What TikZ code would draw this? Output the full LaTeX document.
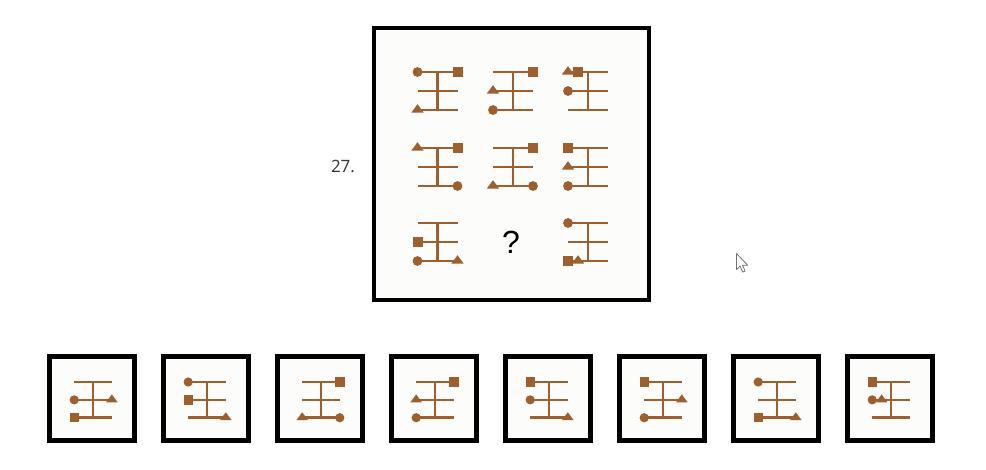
\documentclass[tikz,border=0pt]{standalone}
\usepackage{fontspec}
\newfontfamily\numfont{Open Sans}
\newfontfamily\qfont{Liberation Sans}
\definecolor{br}{HTML}{9C5F2D}
\definecolor{paper}{HTML}{FCFCFA}
\definecolor{numgray}{HTML}{333333}
\definecolor{cursorgray}{HTML}{707070}
\newcommand\GCir[2]{\fill[br] (#1,#2) circle (4.9);}
\newcommand\GSq[2]{\fill[br] (#1-5,#2-5) rectangle (#1+5,#2+5);}
\newcommand\GTri[2]{\fill[br] (#1-6.2,#2+2.6) -- (#1,#2-5.8) -- (#1+6.2,#2+2.6) -- cycle;}
\newcommand\GFig[3]{%
  \begin{scope}[shift={(#1)},scale=#2]
    \draw[brline] (-20,0)--(20,0) (-20,19)--(20,19) (-20,38)--(20,38) (0,0)--(0,38);
    #3
  \end{scope}}
\begin{document}
\begin{tikzpicture}[x=1pt,y=-1pt,
  brline/.style={draw=br,line width=2.5pt},
  mainbox/.style={draw=black,line width=4pt,fill=paper,minimum width=275pt,minimum height=272pt,inner sep=0pt},
  ansbox/.style={draw=black,line width=4.5pt,fill=paper,minimum width=85pt,minimum height=84pt,inner sep=0pt}]
\useasboundingbox (0,0) rectangle (986,469);
\fill[white] (0,0) rectangle (986,469);

% question box
\node[mainbox] (qbox) at (511.5,164) {};
\node[text=numgray,font=\numfont\fontsize{17}{20}\selectfont] (num) at (343,166.5) {27.};

\GFig{437.5,72}{1}{\GCir{-20}{0}\GSq{20}{0}\GTri{-20}{38}}
\GFig{513,72}{1}{\GSq{20}{0}\GTri{-20}{19}\GCir{-20}{38}}
\GFig{588,72}{1}{\GSq{-10}{0}\GTri{-20}{0}\GCir{-20}{19}}
\GFig{437.5,148}{1}{\GTri{-20}{0}\GSq{20}{0}\GCir{20}{38}}
\GFig{513,148}{1}{\GSq{20}{0}\GTri{-20}{38}\GCir{20}{38}}
\GFig{588,148}{1}{\GSq{-20}{0}\GTri{-20}{19}\GCir{-20}{38}}
\GFig{437.5,223}{1}{\GSq{-20}{19}\GCir{-20}{38}\GTri{20}{38}}
\node[font=\qfont\fontsize{32}{36}\selectfont] (qmark) at (511,242) {?};
\GFig{588,223}{1}{\GCir{-20}{0}\GSq{-20}{38}\GTri{-10}{38}}

% answer boxes
\foreach \i in {0,...,7}{
  \node[ansbox] (a\i) at (92+114*\i,398.5) {};
}
\GFig{93,382}{0.94}{\GCir{-20}{19}\GTri{20}{19}\GSq{-20}{38}}
\GFig{207,382}{0.94}{\GCir{-20}{0}\GSq{-20}{19}\GTri{20}{38}}
\GFig{321,382}{0.94}{\GSq{20}{0}\GTri{-20}{38}\GCir{20}{38}}
\GFig{435,382}{0.94}{\GSq{20}{0}\GTri{-20}{19}\GCir{-20}{38}}
\GFig{549,382}{0.94}{\GSq{-20}{0}\GCir{-20}{19}\GTri{20}{38}}
\GFig{663,382}{0.94}{\GSq{-20}{0}\GTri{20}{19}\GCir{-20}{38}}
\GFig{777,382}{0.94}{\GCir{-20}{0}\GSq{-20}{38}\GTri{20}{38}}
\GFig{891,382}{0.94}{\GSq{-20}{0}\GCir{-20}{19}\GTri{-10}{19}}

% mouse cursor
\coordinate (cur) at (736.5,253.5);
\filldraw[fill=white,draw=cursorgray,line width=0.8pt,line join=round]
  (cur) -- ++(0,16) -- ++(3.6,-3.4) -- ++(2.6,6) -- ++(2.4,-1) -- ++(-2.6,-5.8) -- ++(5,-0.2) -- cycle;
\end{tikzpicture}
\end{document}
